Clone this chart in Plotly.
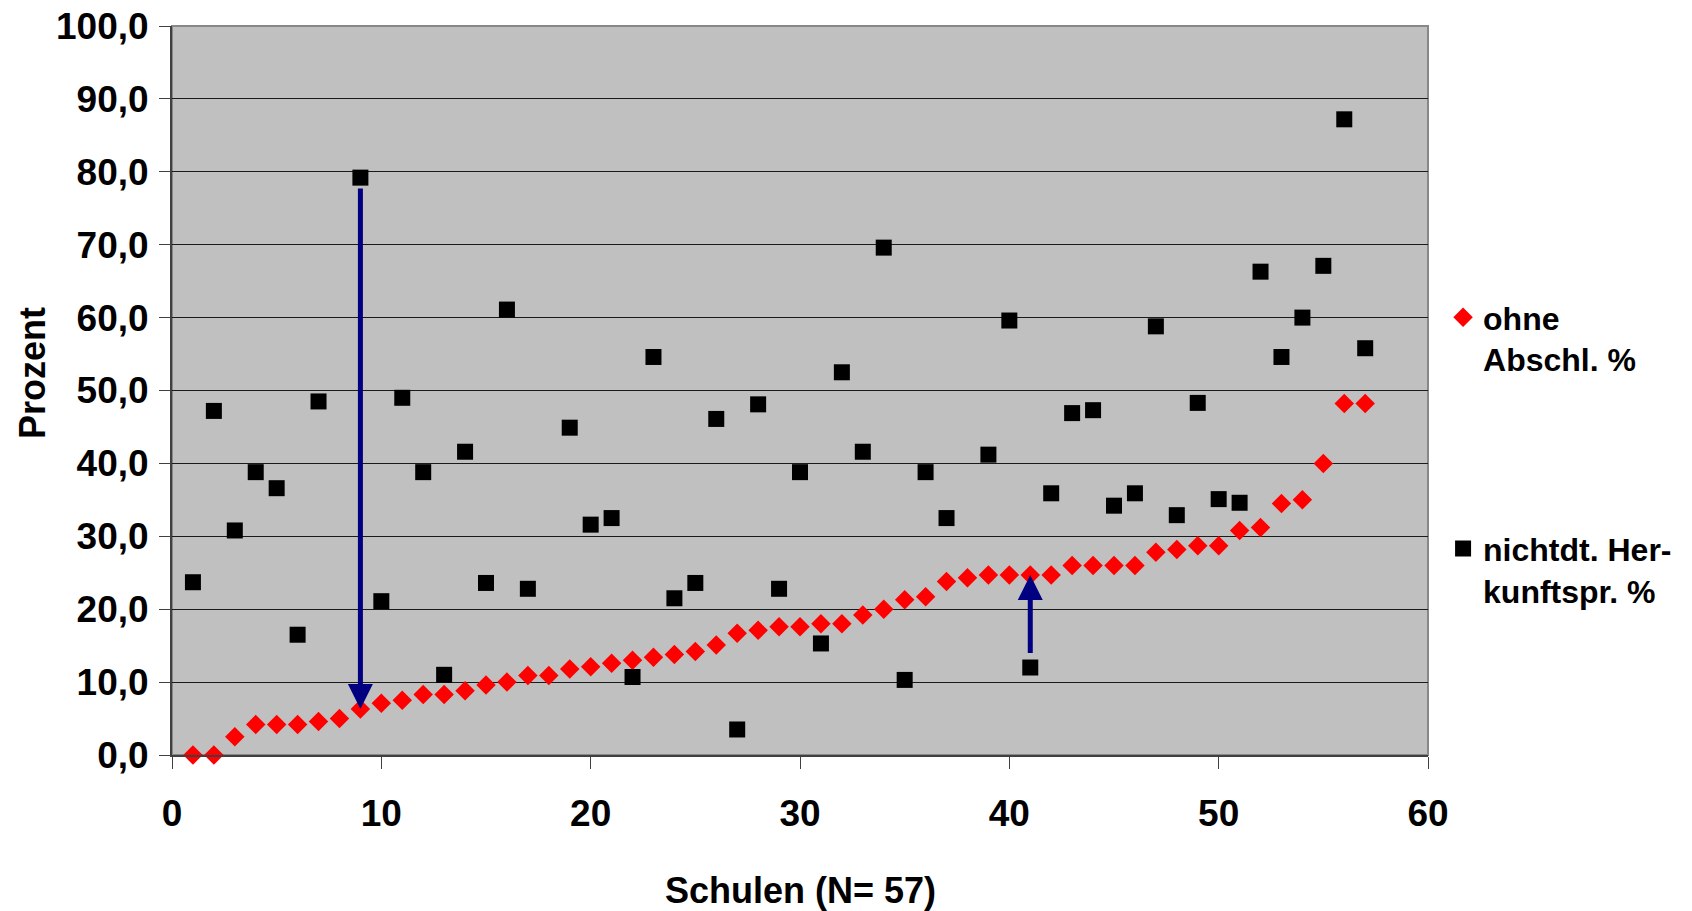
import plotly.graph_objects as go

schools = list(range(1, 58))
ohne_abschl = [0.0, 0.0, 2.5, 4.2, 4.2, 4.2, 4.6, 5.0, 6.3, 7.1,
               7.5, 8.3, 8.3, 8.8, 9.6, 10.0, 10.9, 10.9, 11.8, 12.1,
               12.6, 13.0, 13.4, 13.8, 14.2, 15.1, 16.7, 17.1, 17.6, 17.6,
               18.0, 18.0, 19.2, 20.0, 21.3, 21.7, 23.8, 24.3, 24.7, 24.7,
               24.7, 24.7, 26.0, 26.0, 26.0, 26.0, 27.8, 28.2, 28.7, 28.7,
               30.8, 31.2, 34.5, 35.0, 40.0, 48.2, 48.2]
nichtdt = [23.7, 47.2, 30.8, 38.8, 36.6, 16.5, 48.5, None, 79.2, 21.1,
           49.0, 38.8, 11.0, 41.6, 23.6, 61.1, 22.8, None, 44.9, 31.6,
           32.5, 10.7, 54.6, 21.5, 23.6, 46.1, 3.5, 48.1, 22.8, 38.8,
           15.3, 52.5, 41.6, 69.6, 10.3, 38.8, 32.5, None, 41.2, 59.6,
           12.0, 35.9, 46.9, 47.3, 34.2, 35.9, 58.8, 32.9, 48.3, 35.1,
           34.6, 66.3, 54.6, 60.0, 67.1, 87.2, 55.8]
arrow_schools = [9, 41]

x_ticks = [0, 10, 20, 30, 40, 50, 60]
y_ticks = [0, 10, 20, 30, 40, 50, 60, 70, 80, 90, 100]

FONT = "Liberation Sans, Arial, sans-serif"

fig = go.Figure()
fig.add_trace(go.Scatter(
    x=schools, y=ohne_abschl, mode="markers", name="<b>ohne<br>Abschl. %</b>",
    marker=dict(symbol="diamond", size=15, color="#FF0000", line=dict(width=0)),
    cliponaxis=False, legendgroup="a"))
fig.add_trace(go.Scatter(
    x=schools, y=nichtdt, mode="markers", name="<b>nichtdt. Her-<br>kunftspr. %</b>",
    marker=dict(symbol="square", size=16, color="#000000", line=dict(width=0)),
    cliponaxis=False, legendgroup="b"))

annotations = []
for s in arrow_schools:
    i = schools.index(s)
    tip = ohne_abschl[i]
    src = nichtdt[i]
    tail = src - 1.3 if src > tip else src + 1.8
    annotations.append(dict(
        x=s, y=tip, ax=s, ay=tail, xref="x", yref="y", axref="x", ayref="y",
        showarrow=True, arrowhead=2, arrowsize=1.0, arrowwidth=5,
        arrowcolor="#000080", text="", standoff=0))

annotations.append(dict(
    text="<b>Prozent</b>", xref="paper", yref="paper",
    x=(32 - 172) / 1256, y=(755 - 373) / 729, xanchor="center", yanchor="middle",
    textangle=-90, showarrow=False, font=dict(family=FONT, size=36, color="black")))
annotations.append(dict(
    text="<b>Schulen (N= 57)</b>", xref="paper", yref="paper",
    x=(800 - 172) / 1256, y=(755 - 890) / 729, xanchor="center", yanchor="middle",
    showarrow=False, font=dict(family=FONT, size=36, color="black")))

fig.update_layout(
    width=1692, height=911,
    margin=dict(l=172, r=264, t=26, b=156, pad=0),
    paper_bgcolor="white", plot_bgcolor="#C0C0C0",
    separators=",.",
    font=dict(family=FONT, size=36, color="black"),
    showlegend=True,
    legend=dict(x=1.012, y=(755 - 290) / 729, xanchor="left", yanchor="top",
                font=dict(family=FONT, size=32, color="black"),
                bgcolor="rgba(0,0,0,0)", tracegroupgap=145, valign="top",
                traceorder="grouped", itemwidth=30),
    annotations=annotations,
    shapes=[dict(type="rect", xref="paper", yref="paper", x0=0, y0=0, x1=1, y1=1,
                 line=dict(color="#888888", width=2), layer="below")],
)
fig.update_xaxes(
    range=[0, 60], tickvals=x_ticks, ticktext=[f"<b>{v}</b>" for v in x_ticks],
    ticks="outside", ticklen=12, tickcolor="#404040", tickwidth=1,
    showline=True, linecolor="#404040", linewidth=2, showgrid=False, zeroline=False,
    tickfont=dict(family=FONT, size=37, color="black"), ticklabelstandoff=13,
    automargin=False)
fig.update_yaxes(
    range=[0, 100], tickvals=y_ticks,
    ticktext=[f"<b>{v:.1f}</b>".replace(".", ",") for v in y_ticks],
    ticks="outside", ticklen=11, tickcolor="#404040", tickwidth=1,
    showline=True, linecolor="#404040", linewidth=2,
    showgrid=True, gridcolor="#1a1a1a", gridwidth=1, zeroline=False,
    tickfont=dict(family=FONT, size=37, color="black"), ticklabelstandoff=3,
    automargin=False)

fig.write_html("out.html")
